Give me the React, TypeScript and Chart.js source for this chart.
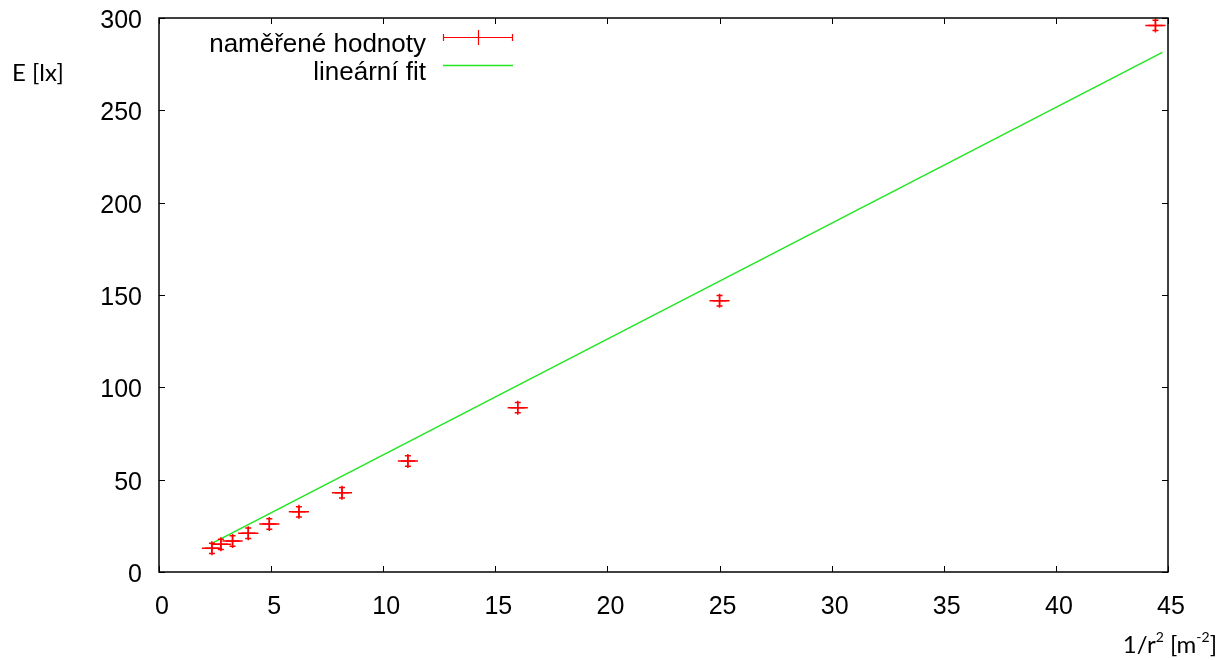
import React, { useEffect, useRef } from "react";
import { Chart, registerables } from "chart.js";

Chart.register(...registerables);

// measured data: 1/r^2 [m^-2] and illuminance E [lx]
const invR2 = [2.36, 2.76, 3.28, 3.98, 4.92, 6.24, 8.16, 11.1, 16.0, 25.0, 44.44];
const illum = [12.8, 15.0, 16.8, 21.0, 26.0, 32.6, 42.9, 60.1, 89.0, 146.9, 296.0];
const xErr = [0.45, 0.45, 0.45, 0.45, 0.45, 0.45, 0.45, 0.45, 0.45, 0.45, 0.45];
const yErr = [2.8, 2.8, 2.8, 2.8, 2.8, 2.8, 2.8, 2.8, 2.8, 2.8, 2.8];

// linear fit line endpoints
const fitX = [2.36, 44.75];
const fitY = [15.5, 281.4];

const seriesLabels = ["naměřené hodnoty", "lineární fit"];
const yAxisTitle = "E [lx]";
const xAxisTitleParts = ["1/r", "2", " [m", "-2", "]"];

const xMin = 0, xMax = 45, xStep = 5;
const yMin = 0, yMax = 300, yStep = 50;

const RED = "#ff0000";
const GREEN = "#22e622";
const TICK_FONT = '"Liberation Sans", Arial, sans-serif';
const TITLE_FONT = 'Lato, "Open Sans", sans-serif';

const decorPlugin = {
  id: "decor",
  afterDatasetsDraw(chart: any) {
    const ctx = chart.ctx;
    const xs = chart.scales.x;
    const ys = chart.scales.y;
    ctx.save();
    // error bars
    ctx.strokeStyle = RED;
    ctx.lineWidth = 1.5;
    for (let i = 0; i < invR2.length; i++) {
      const px = xs.getPixelForValue(invR2[i]);
      const py = ys.getPixelForValue(illum[i]);
      const x0 = xs.getPixelForValue(invR2[i] - xErr[i]);
      const x1 = xs.getPixelForValue(invR2[i] + xErr[i]);
      const y0 = ys.getPixelForValue(illum[i] - yErr[i]);
      const y1 = ys.getPixelForValue(illum[i] + yErr[i]);
      ctx.beginPath();
      ctx.moveTo(x0, py);
      ctx.lineTo(x1, py);
      ctx.moveTo(px, y0);
      ctx.lineTo(px, y1);
      ctx.moveTo(px - 3, y0);
      ctx.lineTo(px + 3, y0);
      ctx.moveTo(px - 3, y1);
      ctx.lineTo(px + 3, y1);
      ctx.stroke();
    }
    ctx.restore();
  },
  afterDraw(chart: any) {
    const ctx = chart.ctx;
    const xs = chart.scales.x;
    const ys = chart.scales.y;
    const ca = chart.chartArea;
    ctx.save();
    // border box
    ctx.strokeStyle = "#000";
    ctx.lineWidth = 1.5;
    ctx.strokeRect(ca.left, ca.top, ca.right - ca.left, ca.bottom - ca.top);
    // ticks (inward, mirrored)
    ctx.lineWidth = 1;
    ctx.beginPath();
    for (let v = xMin; v <= xMax; v += xStep) {
      const p = Math.round(xs.getPixelForValue(v)) + 0.5;
      ctx.moveTo(p, ca.bottom);
      ctx.lineTo(p, ca.bottom - 6);
      ctx.moveTo(p, ca.top);
      ctx.lineTo(p, ca.top + 6);
    }
    for (let v = yMin; v <= yMax; v += yStep) {
      const p = Math.round(ys.getPixelForValue(v)) + 0.5;
      ctx.moveTo(ca.left, p);
      ctx.lineTo(ca.left + 6, p);
      ctx.moveTo(ca.right, p);
      ctx.lineTo(ca.right - 6, p);
    }
    ctx.stroke();

    // legend
    const ds = chart.data.datasets;
    ctx.fillStyle = "#000";
    ctx.font = `26px ${TICK_FONT}`;
    ctx.textAlign = "right";
    ctx.textBaseline = "alphabetic";
    ctx.fillText(ds[0].label, 426, 52);
    ctx.fillText(ds[1].label, 426, 80);
    // red sample with error bar style
    ctx.strokeStyle = RED;
    ctx.lineWidth = 1.2;
    ctx.beginPath();
    ctx.moveTo(443, 37.5);
    ctx.lineTo(513, 37.5);
    ctx.moveTo(443.5, 34);
    ctx.lineTo(443.5, 41);
    ctx.moveTo(512.5, 34);
    ctx.lineTo(512.5, 41);
    ctx.moveTo(478.5, 30);
    ctx.lineTo(478.5, 45);
    ctx.stroke();
    ctx.strokeStyle = GREEN;
    ctx.lineWidth = 1.5;
    ctx.beginPath();
    ctx.moveTo(443, 65.5);
    ctx.lineTo(513, 65.5);
    ctx.stroke();

    // axis titles
    ctx.fillStyle = "#000";
    ctx.textAlign = "left";
    ctx.font = `24px ${TITLE_FONT}`;
    ctx.fillText(yAxisTitle, 12, 81);

    const big = `24px ${TITLE_FONT}`;
    const small = `14px ${TITLE_FONT}`;
    const fonts = [big, small, big, small, big];
    const rise = [0, -11, 0, -11, 0];
    let total = 0;
    const widths: number[] = [];
    for (let i = 0; i < xAxisTitleParts.length; i++) {
      ctx.font = fonts[i];
      const w = ctx.measureText(xAxisTitleParts[i]).width;
      widths.push(w);
      total += w;
    }
    let x = 1217 - total;
    for (let i = 0; i < xAxisTitleParts.length; i++) {
      ctx.font = fonts[i];
      ctx.fillText(xAxisTitleParts[i], x, 653 + rise[i]);
      x += widths[i];
    }
    ctx.restore();
  },
};

export default function App() {
  const ref = useRef<HTMLCanvasElement | null>(null);
  useEffect(() => {
    if (!ref.current) return;
    const chart = new Chart(ref.current, {
      type: "scatter",
      data: {
        datasets: [
          {
            label: seriesLabels[0],
            data: invR2.map((x, i) => ({ x, y: illum[i] })),
            pointStyle: "cross",
            pointRadius: 7,
            pointBorderColor: RED,
            pointBorderWidth: 1.5,
            borderColor: RED,
            showLine: false,
            order: 1,
          },
          {
            label: seriesLabels[1],
            data: fitX.map((x, i) => ({ x, y: fitY[i] })),
            showLine: true,
            pointRadius: 0,
            borderColor: GREEN,
            borderWidth: 1.5,
            order: 2,
          },
        ],
      },
      options: {
        animation: false,
        responsive: false,
        devicePixelRatio: 1,
        layout: { padding: { top: 18, right: 60, left: 0, bottom: 0 } },
        plugins: { legend: { display: false }, tooltip: { enabled: false } },
        scales: {
          x: {
            type: "linear",
            min: xMin,
            max: xMax,
            grid: { display: false, drawTicks: false },
            border: { display: false },
            ticks: {
              stepSize: xStep,
              padding: 20,
              labelOffset: 3,
              color: "#000",
              font: { family: TICK_FONT, size: 25 },
            },
            afterFit: (s: any) => {
              s.height = 88;
              s.paddingLeft = 0;
              s.paddingRight = 0;
            },
          },
          y: {
            type: "linear",
            min: yMin,
            max: yMax,
            grid: { display: false, drawTicks: false },
            border: { display: false },
            ticks: {
              stepSize: yStep,
              padding: 17,
              labelOffset: 3,
              color: "#000",
              font: { family: TICK_FONT, size: 25 },
            },
            afterFit: (s: any) => {
              s.width = 159;
              s.paddingTop = 0;
              s.paddingBottom = 0;
            },
          },
        },
      },
      plugins: [decorPlugin],
    } as any);
    return () => chart.destroy();
  }, []);
  return (
    <div style={{ position: "fixed", left: 0, top: 0, width: 1228, height: 660, background: "#fff" }}>
      <canvas ref={ref} width={1228} height={660} style={{ display: "block" }} />
    </div>
  );
}
